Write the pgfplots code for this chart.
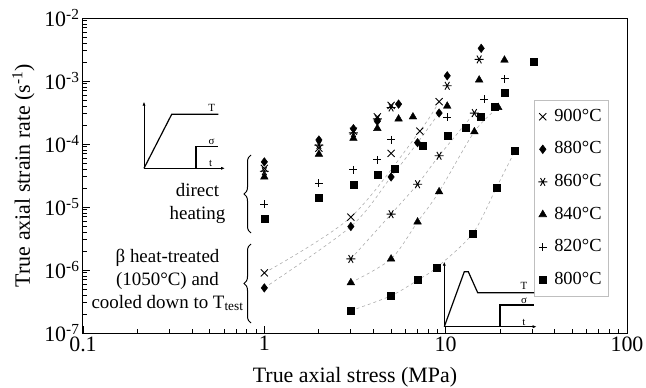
\documentclass[border=0pt]{standalone}
\usepackage{fontspec}
\setmainfont{Liberation Serif}
\usepackage{pgfplots}
\usepackage{pgfplotstable}
\pgfplotsset{compat=1.18}
\usetikzlibrary{arrows.meta,decorations.pathreplacing}

% ---- direct heating (d..) and beta heat-treated (b..) data: stress [MPa], strain rate [1/s]
% 900 C
\pgfplotstableread{
s r
1   4.1e-5
2   8.6e-5
3.1 1.6e-4
4.2 2.7e-4
5   4.1e-4
5   7.1e-5
}\dA
\pgfplotstableread{
s r
1   9.0e-7
3   6.9e-6
7.2 1.6e-4
9.2 4.7e-4
}\bA
% 880 C
\pgfplotstableread{
s r
1    5.2e-5
2    1.16e-4
3.1  1.75e-4
4.2  2.3e-4
5.5  4.3e-4
10.2 1.21e-3
15.7 3.3e-3
}\dB
\pgfplotstableread{
s r
1   5.2e-7
3   4.9e-6
5   3.0e-5
7   1.05e-4
9.2 3.1e-4
}\bB
% 860 C
\pgfplotstableread{
s r
1    3.7e-5
2    9.6e-5
3.1  1.5e-4
4.2  2.5e-4
5    3.8e-4
10.2 8.4e-4
15.3 2.2e-3
}\dC
\pgfplotstableread{
s r
3    1.5e-6
5    7.7e-6
7    2.3e-5
9.2  6.5e-5
14.4 3.1e-4
}\bC
% 840 C
\pgfplotstableread{
s r
1    3.0e-5
2    6.9e-5
3.1  1.23e-4
4.2  1.77e-4
5.5  2.5e-4
6.6  2.7e-4
10.2 4.0e-4
15.3 1.04e-3
21.1 2.15e-3
}\dD
\pgfplotstableread{
s r
3    6.3e-7
5    1.5e-6
7    5.8e-6
9.2  1.75e-5
14.4 1.57e-4
19.5 3.8e-4
}\bD
% 820 C
\pgfplotstableread{
s r
1    1.1e-5
2    2.4e-5
3.1  3.9e-5
4.2  5.6e-5
5    1.16e-4
10.2 2.65e-4
16.3 5.1e-4
21.2 1.08e-3
}\dE
% 800 C
\pgfplotstableread{
s r
1    6.5e-6
2    1.43e-5
3.1  2.3e-5
4.2  3.3e-5
5.25 4.1e-5
7.5  9.5e-5
10.2 1.34e-4
12.9 1.83e-4
15.6 2.7e-4
18.7 3.9e-4
21.2 6.5e-4
30.4 2.0e-3
}\dF
\pgfplotstableread{
s r
3    2.26e-7
5    3.9e-7
7    6.9e-7
8.9  1.09e-6
14.1 3.8e-6
19.1 2.06e-5
24.1 7.8e-5
}\bF

\pgfplotsset{
  fitline/.style={forget plot, smooth, no marks, gray!65, line width=0.6bp,
    dash pattern=on 3bp off 3bp},
  mA/.style={only marks, mark=x, mark size=5bp, mark options={line width=0.9bp}},
  mB/.style={only marks, mark=diamond*, mark size=4.3bp},
  mC/.style={only marks, mark=asterisk, mark size=4.5bp, mark options={rotate=90, line width=0.9bp}},
  mD/.style={only marks, mark=triangle*, mark size=4.4bp},
  mE/.style={only marks, mark=+, mark size=4bp, mark options={line width=0.9bp}},
  mF/.style={only marks, mark=square*, mark size=3.5bp},
}

\begin{document}
\begin{tikzpicture}
\path[use as bounding box] (-83bp,-55bp) rectangle (563bp,333bp);
\begin{axis}[
  scale only axis, width=544bp, height=315bp,
  xmode=log, ymode=log,
  xmin=0.1, xmax=100, ymin=1e-7, ymax=1e-2,
  xtick={0.1,1,10,100}, xticklabels={0.1,1,10,100},
  minor xtick={0.2,0.3,0.4,0.5,0.6,0.7,0.8,0.9,2,3,4,5,6,7,8,9,20,30,40,50,60,70,80,90},
  ytick={1e-7,1e-6,1e-5,1e-4,1e-3,1e-2},
  yticklabels={10\textsuperscript{-7},10\textsuperscript{-6},10\textsuperscript{-5},
    10\textsuperscript{-4},10\textsuperscript{-3},10\textsuperscript{-2}},
  minor ytick={2e-7,3e-7,4e-7,5e-7,6e-7,7e-7,8e-7,9e-7,
    2e-6,3e-6,4e-6,5e-6,6e-6,7e-6,8e-6,9e-6,
    2e-5,3e-5,4e-5,5e-5,6e-5,7e-5,8e-5,9e-5,
    2e-4,3e-4,4e-4,5e-4,6e-4,7e-4,8e-4,9e-4,
    2e-3,3e-3,4e-3,5e-3,6e-3,7e-3,8e-3,9e-3},
  tick pos=lower, xtick align=inside, ytick align=inside,
  major tick length=7bp, minor tick length=4.5bp,
  every tick/.style={black, line width=0.9bp},
  axis line style={line width=1bp},
  ticklabel style={font=\fontsize{22}{24}\selectfont},
  label style={font=\fontsize{22}{24}\selectfont},
  xlabel={True axial stress (MPa)},
  xlabel style={yshift=-9bp},
  ylabel={True axial strain rate (s\textsuperscript{-1})},
  ylabel shift=3bp,
  every axis plot/.append style={black},
  legend cell align=left,
  legend style={at={(rel axis cs:0.829,0.740)}, anchor=north west,
    draw=black!25, line width=0.6bp, fill=white,
    font=\fontsize{18.5}{20}\selectfont,
    inner xsep=4bp, inner ysep=5bp, row sep=9.6bp,
    nodes={inner sep=3bp, text height=13bp, text depth=4bp},
    /tikz/every odd column/.append style={column sep=4bp}},
  legend image code/.code={\draw[#1,mark repeat=2,mark phase=2]
    plot coordinates {(0bp,0bp) (8bp,0bp) (16bp,0bp)};},
]
% dashed trend lines through the beta heat-treated series
\addplot[fitline] table {\bA};
\addplot[fitline] table {\bB};
\addplot[fitline] table {\bC};
\addplot[fitline] table {\bD};
\addplot[fitline] table {\bF};

\addplot[mA] table {\dA}; \addlegendentry{900°C}
\addplot[mA, forget plot] table {\bA};
\addplot[mB] table {\dB}; \addlegendentry{880°C}
\addplot[mB, forget plot] table {\bB};
\addplot[mC] table {\dC}; \addlegendentry{860°C}
\addplot[mC, forget plot] table {\bC};
\addplot[mD] table {\dD}; \addlegendentry{840°C}
\addplot[mD, forget plot] table {\bD};
\addplot[mE] table {\dE}; \addlegendentry{820°C}
\addplot[mF] table {\dF}; \addlegendentry{800°C}
\addplot[mF, forget plot] table {\bF};
\end{axis}

\begin{scope}[x=1bp, y=1bp, line width=1bp]
  % schematic: direct heating
  \draw[-{Latex[length=4bp,width=3.2bp]}] (61,164.7) -- (61,231.3);
  \draw[-{Latex[length=4bp,width=3.2bp]}] (61,164.7) -- (142,164.7);
  \draw[line width=1.2bp] (61,164.7) -- (88.7,218.7) -- (135.3,218.7);
  \draw[line width=1.2bp] (113,164.7) -- (113,186.3) -- (135.3,186.3);
  \begin{scope}[every node/.style={anchor=base, font=\fontsize{11}{12}\selectfont}]
    \node at (128.7,221.3) {T};
    \node at (128.7,188.7) {σ};
    \node at (127.7,166.3) {t};
  \end{scope}
  % schematic: beta treatment then cooling to test temperature
  \draw[-{Latex[length=4bp,width=3.2bp]}] (361.3,6.3) -- (361.3,71.3);
  \draw[-{Latex[length=4bp,width=3.2bp]}] (361.3,6.3) -- (453.7,6.3);
  \draw[line width=1.2bp] (361.3,6.3) -- (381.3,61.3) -- (385.3,61.3) -- (394.7,40.3) -- (451,40.3);
  \draw[line width=1.2bp] (417,6.3) -- (417,28) -- (451,28);
  \begin{scope}[every node/.style={anchor=base, font=\fontsize{11}{12}\selectfont}]
    \node at (441,43.7) {T};
    \node at (441,29.7) {σ};
    \node at (441,7.5) {t};
  \end{scope}
  % braces and group descriptions
  \draw[decorate, decoration={brace, amplitude=7bp}] (168,100) -- (168,178);
  \draw[decorate, decoration={brace, amplitude=7bp}] (168,10) -- (168,89);
  \begin{scope}[every node/.style={anchor=base, font=\fontsize{19}{23}\selectfont}]
    \node at (114.5,136.3) {direct};
    \node at (114.5,113.7) {heating};
    \node at (84.5,70.3) {β heat-treated};
    \node at (84.5,48) {(1050°C) and};
    \node at (84.5,24.7) {cooled down to T\textsubscript{test}};
  \end{scope}
\end{scope}
\end{tikzpicture}
\end{document}
